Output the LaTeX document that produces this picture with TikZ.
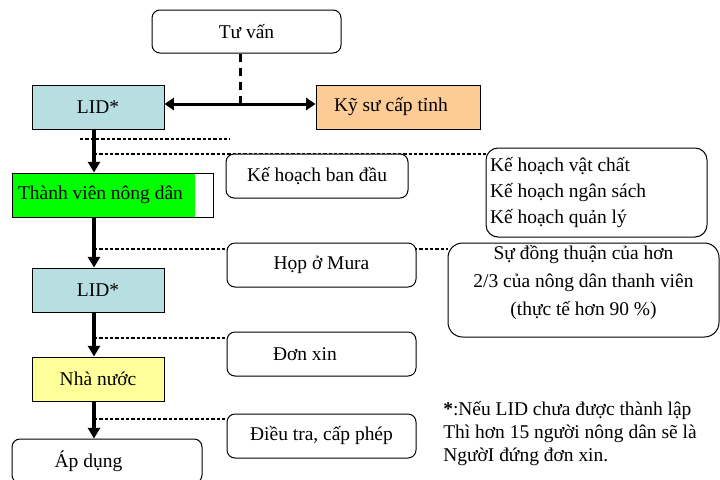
\documentclass[tikz,border=0pt]{standalone}
\usepackage{fontspec}
\setmainfont{Liberation Serif}
\usetikzlibrary{arrows.meta,positioning,backgrounds}

\definecolor{lidblue}{RGB}{183,222,225}
\definecolor{orangebox}{RGB}{252,203,150}
\definecolor{landgreen}{RGB}{0,255,0}
\definecolor{stateyellow}{RGB}{255,255,153}

\begin{document}
\begin{tikzpicture}[x=0.75pt,y=-0.75pt,
    font=\fontsize{14.6}{17.5}\selectfont,
    box/.style={draw,rectangle,line width=0.75pt,minimum width=99pt,minimum height=33pt,inner sep=0pt},
    plan/.style={draw,rounded corners=6pt,line width=0.75pt,fill=white,minimum width=141.75pt,minimum height=33pt,inner sep=0pt},
    flow/.style={line width=3pt,-{Triangle[length=8pt,width=9pt]}},
    link/.style={line width=2.25pt,{Triangle[length=7pt,width=9pt]}-{Triangle[length=7pt,width=9pt]}},
    advice/.style={line width=2.25pt,dash pattern=on 6pt off 4.5pt},
    branch/.style={line width=0.9pt,dash pattern=on 2.5pt off 1.5pt}]
    \useasboundingbox (0,0) rectangle (720,479);

    % main column
    \node[plan,minimum height=32.25pt]  (tv)   at (246.5,31.5)  {Tư vấn};
    \node[box,fill=lidblue]             (lid1) at (98,107)      {LID*};
    \node[box,fill=orangebox,minimum width=123pt,text width=96pt,inner xsep=13.5pt,align=flush left]
                                        (ksu)  at (398,107)     {Kỹ sư cấp tỉnh};
    \node[box,fill=white,minimum width=150.75pt,text width=141.75pt,inner xsep=4.5pt,align=flush left,
          path picture={\fill[landgreen] (path picture bounding box.south west)
                rectangle ([xshift=-13.5pt]path picture bounding box.north east);}]
                                        (tvnd) at (112.5,195)   {Thành viên nông dân};
    \node[box,fill=lidblue]             (lid2) at (98,290)      {LID*};
    \node[box,fill=stateyellow]         (nn)   at (98,379)      {Nhà nước};
    \node[plan,minimum width=142.5pt,text width=78.5pt,inner xsep=32pt,align=flush left]
                                        (ad)   at (107,461)     {Áp dụng};

    % steps
    \node[plan,minimum width=136.5pt]   (kh0)  at (317,176)     {Kế hoạch ban đầu};
    \node[plan]                         (hop)  at (321.5,265)   {Họp ở Mura};
    \node[plan,text width=72.75pt,inner xsep=34.5pt,align=flush left]
                                        (don)  at (321.5,354)   {Đơn xin};
    \node[plan]                         (dt)   at (321.5,436)   {Điều tra, cấp phép};

    % details
    \node[plan,rounded corners=9pt,minimum width=165.75pt,minimum height=66.75pt,
          text width=159.75pt,inner xsep=3pt,align=flush left,font=\fontsize{14.6}{19.5}\selectfont]
                                        (khvc) at (596.5,192.5) {Kế hoạch vật chất\\Kế hoạch ngân sách\\Kế hoạch quản lý};
    \node[plan,rounded corners=11pt,minimum width=203.25pt,minimum height=70.5pt,
          text width=186pt,inner xsep=0pt,inner ysep=0pt,align=flush center,font=\fontsize{14.6}{21}\selectfont]
                                        (sdt)  at (583.5,290)   {Sự đồng thuận của hơn\\2/3 của nông dân thanh viên\\(thực tế hơn 90 \%)\\[-7pt]\mbox{}};
    \node[anchor=north west,align=flush left,inner sep=0pt,font=\fontsize{14.6}{17.25}\selectfont]
                                        (note) at (443,401)     {\textbf{*}:Nếu LID chưa được thành lập\\Thì hơn 15 người nông dân sẽ là\\NgườI đứng đơn xin.};

    \coordinate (spine) at (94,0);
    \coordinate (meet)  at (240,104);
    \coordinate (b1)    at (94,154);
    \coordinate (b2)    at (94,249);
    \coordinate (b3)    at (94,338);
    \coordinate (b4)    at (94,419);
    \coordinate (s1)    at (80,139);
    \coordinate (s2)    at (230,139);

    \begin{scope}[on background layer]
        \draw[branch] (b1) -- (b1 -| khvc.west);
        \draw[branch] (b2) -- (b2 -| sdt.west);
        \draw[branch] (b3) -- (b3 -| don.west);
        \draw[branch] (b4) -- (b4 -| dt.west);
    \end{scope}
    \draw[branch] (s1) -- (s2);

    \draw[advice] (tv.south -| meet) -- (meet);
    \draw[link] ([yshift=2.25pt]lid1.east) -- ([yshift=2.25pt]ksu.west);
    \draw[flow] (lid1.south -| spine) -- (tvnd.north -| spine);
    \draw[flow] (tvnd.south -| spine) -- (lid2.north -| spine);
    \draw[flow] (lid2.south -| spine) -- (nn.north -| spine);
    \draw[flow] (nn.south -| spine)   -- (ad.north -| spine);
\end{tikzpicture}
\end{document}
